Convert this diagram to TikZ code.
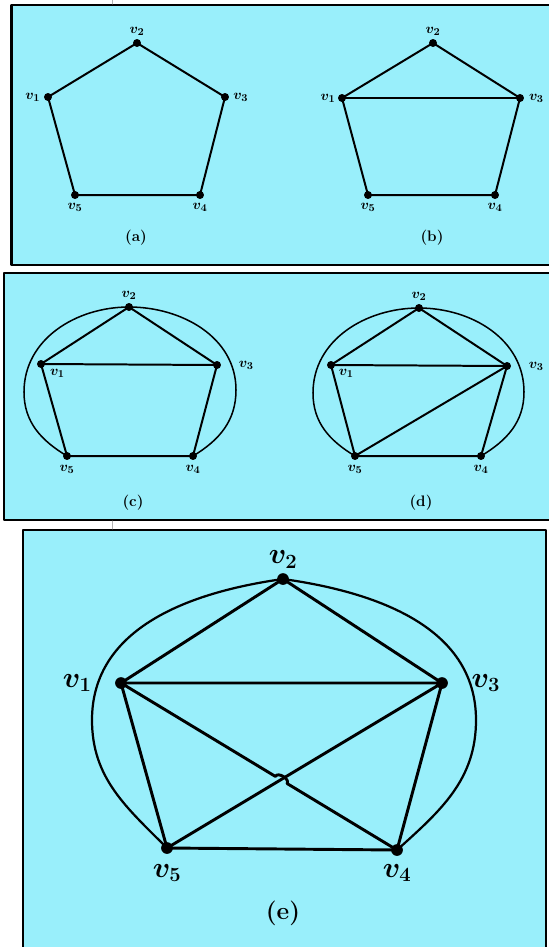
\documentclass[tikz,border=0pt]{standalone}
\usetikzlibrary{calc,positioning}
\definecolor{panelbg}{RGB}{153,239,251}

\begin{document}
\begin{tikzpicture}[x=0.03cm,y=0.03cm,line cap=round,line join=round,
  panel/.style={fill=panelbg,draw=black,line width=1.8pt},
  gedge/.style={line width=1.7pt},
  ring/.style={line width=1.3pt},
  bigedge/.style={line width=2.5pt},
  bigring/.style={line width=1.9pt},
  lab/.style={inner sep=0pt,font=\fontsize{13}{13}\selectfont\boldmath},
  biglab/.style={inner sep=0pt,font=\fontsize{23}{23}\selectfont\boldmath},
  captxt/.style={font=\fontsize{13}{13}\selectfont\bfseries},
  bigcap/.style={font=\fontsize{21}{21}\selectfont\bfseries}]

\def\dotr{3.4pt}
\def\bigr{5pt}

% page and frames
\path[use as bounding box,fill=white] (0,0) rectangle (548,-947);
\draw[panel] (11.5,-5) rectangle (560,-265);
\draw[panel] (4,-273) rectangle (560,-520);
\draw[panel] (23,-530) rectangle (546,-960);
\draw[gray!60,line width=0.6pt] (112,0) -- (112,-4);
\draw[gray!60,line width=0.6pt] (112,-521) -- (112,-529);

% (a)
\coordinate (a1) at (48,-97);
\coordinate (a2) at (137,-43);
\coordinate (a3) at (225,-97);
\coordinate (a4) at (200,-195);
\coordinate (a5) at (75,-195);
\draw[gedge] (a1)--(a2)--(a3)--(a4)--(a5)--cycle;
\fill (a1) circle (\dotr) node[lab,left=6.5pt] (ta1) {$v_1$};
\fill (a2) circle (\dotr) node[lab,above=6pt] (ta2) {$v_2$};
\fill (a3) circle (\dotr) node[lab,right=7pt] (ta3) {$v_3$};
\fill (a4) circle (\dotr) node[lab,below=7pt] (ta4) {$v_4$};
\fill (a5) circle (\dotr) node[lab,below=7pt] (ta5) {$v_5$};
\node[captxt] (capa) at (136,-238) {(a)};

% (b)
\coordinate (b1) at (342,-98);
\coordinate (b2) at (433,-43);
\coordinate (b3) at (520,-98);
\coordinate (b4) at (495,-195);
\coordinate (b5) at (368,-195);
\draw[gedge] (b1)--(b2)--(b3)--(b4)--(b5)--cycle;
\draw[gedge] (b1)--(b3);
\fill (b1) circle (\dotr) node[lab,left=5.5pt] (tb1) {$v_1$};
\fill (b2) circle (\dotr) node[lab,above=6pt] (tb2) {$v_2$};
\fill (b3) circle (\dotr) node[lab,right=7.5pt] (tb3) {$v_3$};
\fill (b4) circle (\dotr) node[lab,below=7pt] (tb4) {$v_4$};
\fill (b5) circle (\dotr) node[lab,below=7pt] (tb5) {$v_5$};
\node[captxt] (capb) at (432,-238) {(b)};

% (c)
\coordinate (c1) at (41,-364);
\coordinate (c2) at (129,-307);
\coordinate (c3) at (217,-365);
\coordinate (c4) at (193,-456);
\coordinate (c5) at (67,-456);
\coordinate (cL) at (24,-392);
\coordinate (cR) at (236,-390);
\draw[ring] (c5) to[out=149,in=-90] (cL) to[out=90,in=180] (c2)
  to[out=0,in=90] (cR) to[out=-90,in=31] (c4);
\draw[gedge] (c1)--(c2)--(c3)--(c4)--(c5)--cycle;
\draw[gedge] (c1)--(c3);
\fill (c1) circle (\dotr) node[lab,below right=4.5pt and 7.5pt] (tc1) {$v_1$};
\fill (c2) circle (\dotr) node[lab,above=6pt] (tc2) {$v_2$};
\fill (c3) circle (\dotr) node[lab,right=18.5pt] (tc3) {$v_3$};
\fill (c4) circle (\dotr) node[lab,below=8pt] (tc4) {$v_4$};
\fill (c5) circle (\dotr) node[lab,below=8pt] (tc5) {$v_5$};
\node[captxt] (capc) at (133,-503) {(c)};

% (d)
\coordinate (d1) at (331,-365);
\coordinate (d2) at (419,-308);
\coordinate (d3) at (507,-366);
\coordinate (d4) at (481,-456);
\coordinate (d5) at (355,-456);
\coordinate (dL) at (313,-393);
\coordinate (dR) at (524,-392);
\draw[ring] (d5) to[out=149,in=-90] (dL) to[out=90,in=180] (d2)
  to[out=0,in=90] (dR) to[out=-90,in=31] (d4);
\draw[gedge] (d1)--(d2)--(d3)--(d4)--(d5)--cycle;
\draw[gedge] (d1)--(d3)--(d5);
\fill (d1) circle (\dotr) node[lab,below right=3.5pt and 6.5pt] (td1) {$v_1$};
\fill (d2) circle (\dotr) node[lab,above=6pt] (td2) {$v_2$};
\fill (d3) circle (\dotr) node[lab,right=18.5pt] (td3) {$v_3$};
\fill (d4) circle (\dotr) node[lab,below=8pt] (td4) {$v_4$};
\fill (d5) circle (\dotr) node[lab,below=8pt] (td5) {$v_5$};
\node[captxt] (capd) at (421,-503) {(d)};

% (e)
\coordinate (e1) at (121,-683);
\coordinate (e2) at (283,-579);
\coordinate (e3) at (442,-683);
\coordinate (e4) at (397,-850);
\coordinate (e5) at (167,-848);
\coordinate (eL) at (92,-720);
\coordinate (eR) at (476,-720);
\coordinate (hopA) at ($(e1)!0.559!(e4)$);
\coordinate (hopB) at ($(e1)!0.602!(e4)$);
\draw[bigring] (e5) to[out=135,in=-90] (eL) to[out=90,in=188] (e2)
  to[out=-8,in=90] (eR) to[out=-90,in=42] (e4);
\draw[bigedge] (e1)--(e2)--(e3)--(e4)--(e5)--cycle;
\draw[bigedge] (e1)--(e3)--(e5);
\draw[bigedge] (e1)--(hopA) to[bend left=90] (hopB)--(e4);
\fill (e1) circle (\bigr) node[biglab,left=25pt] (te1) {$v_1$};
\fill (e2) circle (\bigr) node[biglab,above=9pt] (te2) {$v_2$};
\fill (e3) circle (\bigr) node[biglab,right=25pt] (te3) {$v_3$};
\fill (e4) circle (\bigr) node[biglab,below=12pt] (te4) {$v_4$};
\fill (e5) circle (\bigr) node[biglab,below=13.5pt] (te5) {$v_5$};
\node[bigcap] (cape) at (283,-913) {(e)};

\end{tikzpicture}
\end{document}
